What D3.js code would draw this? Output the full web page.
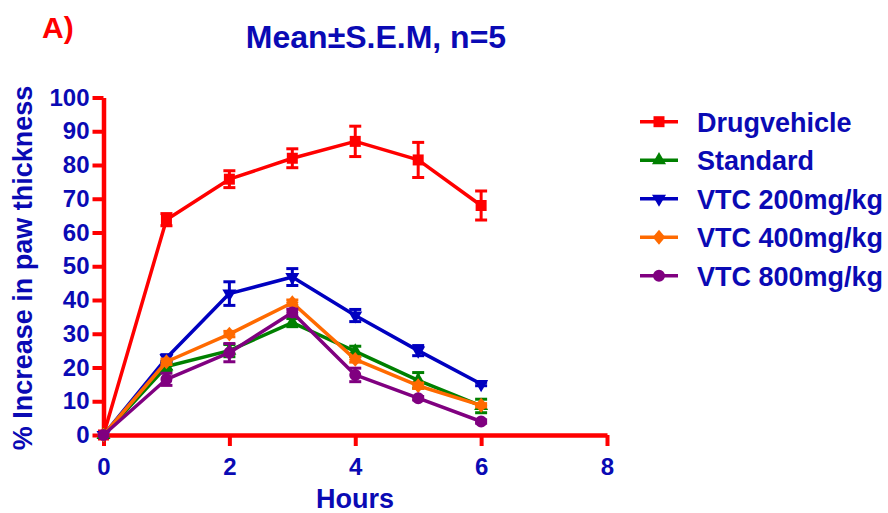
<!DOCTYPE html>
<html>
<head>
<meta charset="utf-8">
<script src="https://cdn.jsdelivr.net/npm/d3@7/dist/d3.min.js"></script>
<style>
    html, body { margin: 0; padding: 0; background: #fff; }
    svg { display: block; }
    text { font-family: Arial, 'Liberation Sans', sans-serif; font-weight: bold; }
</style>
</head>
<body>
<div id="chart"></div>
<script>
//----- DATA ---------------------------------------//
var HOURS = [0, 1, 2, 3, 4, 5, 6];
var SERIES_NAMES = ['Drugvehicle', 'Standard', 'VTC 200mg/kg', 'VTC 400mg/kg', 'VTC 800mg/kg'];
var DRUG_MEAN = [0, 63.8, 75.8, 82.0, 87.0, 81.5, 68.0];
var DRUG_SEM  = [0, 1.8, 2.5, 2.8, 4.5, 5.2, 4.3];
var STD_MEAN  = [0, 20.3, 25.0, 33.3, 24.8, 16.2, 8.6];
var STD_SEM   = [0, 1.2, 1.8, 1.2, 1.5, 2.3, 2.0];
var V200_MEAN = [0, 22.8, 41.9, 46.8, 35.4, 25.0, 15.1];
var V200_SEM  = [0, 1.0, 3.5, 2.5, 1.8, 1.5, 0.5];
var V400_MEAN = [0, 21.7, 29.9, 39.2, 22.4, 14.6, 8.8];
var V400_SEM  = [0, 0.8, 0.8, 0.8, 0.8, 0.8, 0.5];
var V800_MEAN = [0, 16.5, 24.4, 36.3, 17.8, 10.9, 4.0];
var V800_SEM  = [0, 1.8, 2.7, 1.0, 2.0, 0.5, 0.5];
var X_TICKS = [0, 2, 4, 6, 8];
var Y_TICKS = [0, 10, 20, 30, 40, 50, 60, 70, 80, 90, 100];

(function (d3) {
    'use strict';

        //----- SETTINGS -----------------------------------//
    var WIDTH = 888,
        HEIGHT = 513,
        X0 = 103.5, X1 = 607,
        Y0 = 435, Y1 = 97.5,
        AXIS_RED = '#ff0000',
        TEXT_BLUE = '#0a0ab4',
        LINE_WIDTH = 3.5,
        CAP_HALF = 6,
        COLORS = ['#ff0000', '#008000', '#0000c0', '#ff6a00', '#800080'],
        MEANS = [DRUG_MEAN, STD_MEAN, V200_MEAN, V400_MEAN, V800_MEAN],
        SEMS = [DRUG_SEM, STD_SEM, V200_SEM, V400_SEM, V800_SEM];

    var x = d3.scaleLinear().domain([0, 8]).range([X0, X1]);
    var y = d3.scaleLinear().domain([0, 100]).range([Y0, Y1]);

    var svg = d3.select('#chart').append('svg')
        .attr('width', WIDTH)
        .attr('height', HEIGHT);

    //----- MARKER SHAPES ------------------------------//
    var diamond = function (s) {
        return 'M0,' + (-s * 0.62) + 'L' + (s * 0.52) + ',0L0,' + (s * 0.62) + 'L' + (-s * 0.52) + ',0Z';
    };
    var MARKERS = [
        d3.symbol(d3.symbolSquare, 121)(),
        d3.symbol(d3.symbolTriangle, 85)(),
        d3.symbol(d3.symbolTriangle, 85)(),
        diamond(12),
        d3.symbol(d3.symbolCircle, 113)()
    ];
    var ROTATE = [0, 0, 180, 0, 0];

    //----- AXES ---------------------------------------//
    var yAxis = svg.append('g')
        .attr('transform', 'translate(' + X0 + ',0)')
        .call(d3.axisLeft(y).tickValues(Y_TICKS).tickSize(11).tickSizeOuter(0).tickPadding(3));
    var xAxis = svg.append('g')
        .attr('transform', 'translate(0,' + Y0 + ')')
        .call(d3.axisBottom(x).tickValues(X_TICKS).tickSize(11).tickSizeOuter(0).tickPadding(12));

    [xAxis, yAxis].forEach(function (ax) {
        ax.select('.domain').attr('stroke', AXIS_RED).attr('stroke-width', 4.5);
        ax.selectAll('.tick line').attr('stroke', AXIS_RED).attr('stroke-width', 4);
        ax.selectAll('.tick text')
            .attr('fill', TEXT_BLUE)
            .attr('font-size', 24)
            .attr('font-family', "Arial, 'Liberation Sans', sans-serif")
            .attr('font-weight', 'bold');
    });

    //----- SERIES -------------------------------------//
    var line = d3.line()
        .x(function (d) { return x(d[0]); })
        .y(function (d) { return y(d[1]); });

    MEANS.forEach(function (means, si) {
        var pts = HOURS.map(function (h, i) { return [h, means[i], SEMS[si][i]]; });
        var g = svg.append('g');

        g.append('path')
            .attr('d', line(pts))
            .attr('fill', 'none')
            .attr('stroke', COLORS[si])
            .attr('stroke-width', LINE_WIDTH)
            .attr('stroke-linejoin', 'round');

        // Error bars
        var eb = g.selectAll('.eb').data(pts.filter(function (d) { return d[2] > 0; }))
            .enter().append('g')
            .attr('stroke', COLORS[si])
            .attr('stroke-width', 3);
        eb.append('line')
            .attr('x1', function (d) { return x(d[0]); })
            .attr('x2', function (d) { return x(d[0]); })
            .attr('y1', function (d) { return y(d[1] - d[2]); })
            .attr('y2', function (d) { return y(d[1] + d[2]); });
        [-1, 1].forEach(function (sign) {
            eb.append('line')
                .attr('x1', function (d) { return x(d[0]) - CAP_HALF; })
                .attr('x2', function (d) { return x(d[0]) + CAP_HALF; })
                .attr('y1', function (d) { return y(d[1] + sign * d[2]); })
                .attr('y2', function (d) { return y(d[1] + sign * d[2]); });
        });

        // Markers
        g.selectAll('.mk').data(pts).enter().append('path')
            .attr('d', MARKERS[si])
            .attr('fill', COLORS[si])
            .attr('transform', function (d) {
                return 'translate(' + x(d[0]) + ',' + y(d[1]) + ') rotate(' + ROTATE[si] + ')';
            });
    });

    //----- LEGEND -------------------------------------//
    var legend = svg.append('g');
    SERIES_NAMES.forEach(function (name, i) {
        var ly = 121.7 + i * 38.5;
        legend.append('line')
            .attr('x1', 640).attr('x2', 678)
            .attr('y1', ly).attr('y2', ly)
            .attr('stroke', COLORS[i])
            .attr('stroke-width', LINE_WIDTH);
        legend.append('path')
            .attr('d', MARKERS[i])
            .attr('fill', COLORS[i])
            .attr('transform', 'translate(659,' + ly + ') rotate(' + ROTATE[i] + ')');
        legend.append('text')
            .attr('x', 697)
            .attr('y', ly + 10)
            .attr('fill', TEXT_BLUE)
            .attr('font-size', 27)
            .text(name);
    });

    //----- TITLES -------------------------------------//
    svg.append('text')
        .attr('x', 42).attr('y', 38)
        .attr('fill', '#ff0000')
        .attr('font-size', 30)
        .text('A)');

    svg.append('text')
        .attr('x', 376).attr('y', 48)
        .attr('text-anchor', 'middle')
        .attr('fill', TEXT_BLUE)
        .attr('font-size', 32)
        .text('Mean\u00b1S.E.M, n=5');

    svg.append('text')
        .attr('x', 355).attr('y', 508)
        .attr('text-anchor', 'middle')
        .attr('fill', TEXT_BLUE)
        .attr('font-size', 27)
        .text('Hours');

    svg.append('text')
        .attr('transform', 'translate(32,268) rotate(-90)')
        .attr('text-anchor', 'middle')
        .attr('fill', TEXT_BLUE)
        .attr('font-size', 27)
        .text('% Increase in paw thickness');

})(d3);
</script>
</body>
</html>
